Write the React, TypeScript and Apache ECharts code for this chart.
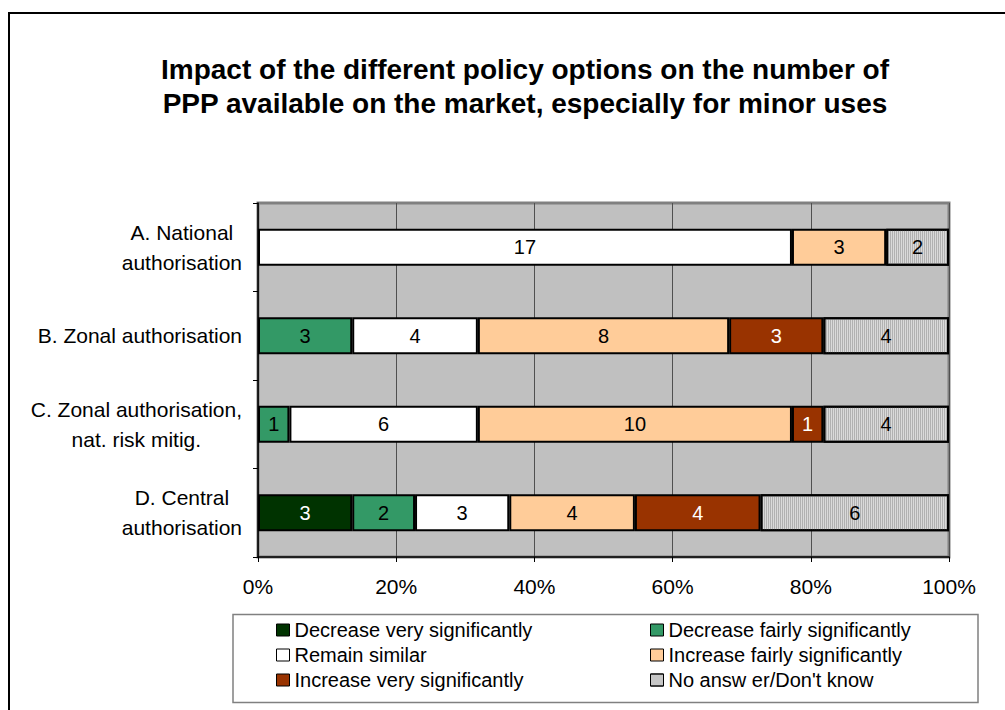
import React, { useEffect, useRef } from "react";
import * as echarts from "echarts";

const categories = [
  "A. National\nauthorisation",
  "B. Zonal authorisation",
  "C. Zonal authorisation,\nnat. risk mitig.",
  "D. Central\nauthorisation",
];

const seriesNames = [
  "Decrease very significantly",
  "Decrease fairly significantly",
  "Remain similar",
  "Increase fairly significantly",
  "Increase very significantly",
  "No answ er/Don't know",
];

const decreaseVery = [0, 0, 0, 3];
const decreaseFairly = [0, 3, 1, 2];
const remainSimilar = [17, 4, 6, 3];
const increaseFairly = [3, 8, 10, 4];
const increaseVery = [0, 3, 1, 4];
const noAnswer = [2, 4, 4, 6];

const xTicks = [0, 20, 40, 60, 80, 100];

const seriesCounts = [decreaseVery, decreaseFairly, remainSimilar, increaseFairly, increaseVery, noAnswer];
const seriesColors = ["#003300", "#339966", "#FFFFFF", "#FFCC99", "#993300", "#DADADA"];
const labelColors = ["#FFFFFF", "#000000", "#000000", "#000000", "#FFFFFF", "#000000"];

const FONT = '"Liberation Sans", Arial, sans-serif';

export default function App() {
  const ref = useRef<HTMLDivElement>(null);
  useEffect(() => {
    if (!ref.current) return;
    const chart = echarts.init(ref.current, null, { renderer: "svg" });
    const totals = categories.map((_, i) => seriesCounts.reduce((s, arr) => s + arr[i], 0));

    const series = seriesCounts.map((counts, si) => ({
      name: seriesNames[si],
      type: "bar",
      stack: "total",
      barWidth: 37,
      data: counts.map((c, i) => (c === 0 ? "-" : (c / totals[i]) * 100)),
      itemStyle: {
        color: seriesColors[si],
        borderColor: "#000",
        borderWidth: 2,
        ...(si === 5
          ? {
              decal: {
                symbol: "rect",
                symbolSize: 1,
                dashArrayX: [1, 1],
                dashArrayY: [1, 0],
                rotation: 0,
                color: "rgba(150,150,150,0.6)",
              },
            }
          : {}),
      },
      label: {
        show: true,
        position: "inside",
        color: labelColors[si],
        fontSize: 20,
        fontFamily: FONT,
        formatter: (p: any) => String(counts[p.dataIndex]),
      },
    }));

    const legendCommon = {
      orient: "vertical",
      itemWidth: 13,
      itemHeight: 12,
      itemGap: 5,
      padding: 0,
      selectedMode: false,
      icon: "rect",
      itemStyle: { borderColor: "#000", borderWidth: 1 },
      textStyle: { fontSize: 20, color: "#000", fontFamily: FONT },
    };

    chart.setOption({
      animation: false,
      backgroundColor: "#FFFFFF",
      title: {
        text:
          "Impact of the different policy options on the number of\nPPP available on the market, especially for minor uses",
        left: 525,
        top: 52,
        padding: 0,
        textAlign: "center",
        textStyle: {
          fontSize: 28,
          fontWeight: "bold",
          lineHeight: 34,
          color: "#000",
          fontFamily: FONT,
        },
      },
      legend: [
        { ...legendCommon, data: [seriesNames[0], seriesNames[2], seriesNames[4]], left: 276, top: 620 },
        { ...legendCommon, data: [seriesNames[1], seriesNames[3], seriesNames[5]], left: 650, top: 620 },
      ],
      grid: {
        left: 258,
        right: 56,
        top: 203,
        bottom: 153,
        show: true,
        backgroundColor: "#C0C0C0",
        borderColor: "#808080",
        borderWidth: 3,
        containLabel: false,
      },
      xAxis: {
        type: "value",
        min: xTicks[0],
        max: xTicks[xTicks.length - 1],
        interval: xTicks[1] - xTicks[0],
        axisLine: { show: true, lineStyle: { color: "#000", width: 1.5 } },
        axisTick: { show: true, length: 5, lineStyle: { color: "#000" } },
        splitLine: { show: true, lineStyle: { color: "#505050", width: 1 } },
        axisLabel: {
          formatter: "{value}%",
          fontSize: 21,
          margin: 19,
          color: "#000",
          fontFamily: FONT,
        },
      },
      yAxis: {
        type: "category",
        inverse: true,
        data: categories,
        axisLine: { show: true, lineStyle: { color: "#000", width: 1.5 } },
        axisTick: { show: true, length: 5, lineStyle: { color: "#000" } },
        splitLine: { show: false },
        axisLabel: {
          margin: 16,
          color: "#000",
          fontSize: 21,
          lineHeight: 30,
          fontFamily: FONT,
          formatter: (v: string) =>
            v
              .split("\n")
              .map((l) => `{c|${l}}`)
              .join("\n"),
          rich: {
            c: { align: "center", fontSize: 21, lineHeight: 30, color: "#000", fontFamily: FONT },
          },
        },
      },
      graphic: [
        {
          type: "rect",
          silent: true,
          z: 100,
          shape: { x: 9, y: 13, width: 1020, height: 720 },
          style: { fill: "none", stroke: "#000", lineWidth: 2 },
        },
        {
          type: "rect",
          silent: true,
          shape: { x: 233, y: 614.5, width: 745, height: 88 },
          style: { fill: "none", stroke: "#808080", lineWidth: 1.5 },
        },
      ],
      series,
    });
    return () => chart.dispose();
  }, []);

  return (
    <div
      ref={ref}
      style={{ position: "absolute", left: 0, top: 0, width: 1005, height: 710, background: "#fff" }}
    />
  );
}
